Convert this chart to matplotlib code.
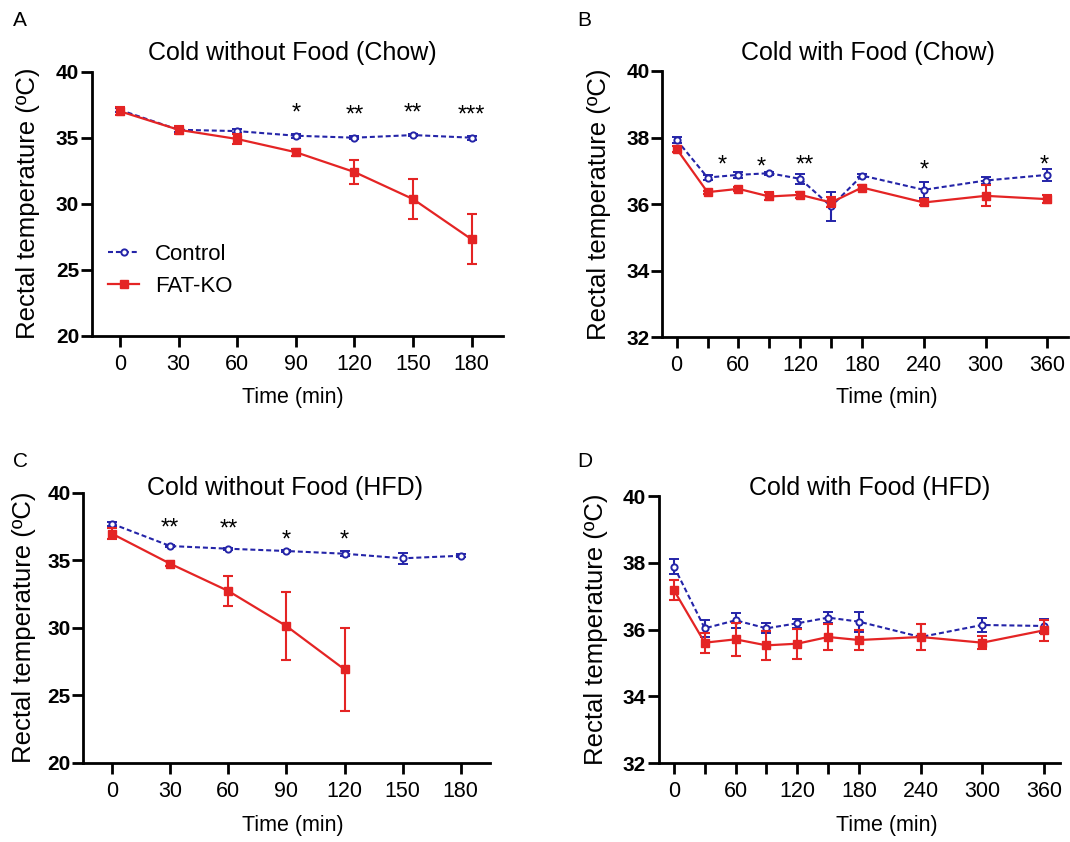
import numpy as np
import matplotlib.pyplot as plt

plt.rcParams['font.family'] = ['Liberation Sans', 'DejaVu Sans']

# ---- data ----
times_A = [0, 30, 60, 90, 120, 150, 180]
ctrl_A = [37.1, 35.6, 35.5, 35.15, 35.0, 35.2, 35.0]
ctrl_A_err = [0.15, 0.15, 0.15, 0.15, 0.1, 0.1, 0.15]
ko_A = [37.0, 35.6, 34.9, 33.9, 32.4, 30.35, 27.3]
ko_A_err = [0.3, 0.3, 0.35, 0.25, 0.9, 1.5, 1.9]
stars_A_x = [90, 120, 150, 180]
stars_A_y = [37.43, 37.3, 37.43, 37.3]
stars_A = ['*', '**', '**', '***']

times_B = [0, 30, 60, 90, 120, 150, 180, 240, 300, 360]
ctrl_B = [37.93, 36.8, 36.88, 36.93, 36.76, 35.93, 36.86, 36.43, 36.71, 36.88]
ctrl_B_err = [0.1, 0.08, 0.08, 0.05, 0.15, 0.43, 0.05, 0.25, 0.1, 0.17]
ko_B = [37.66, 36.36, 36.46, 36.23, 36.28, 36.05, 36.5, 36.05, 36.25, 36.15]
ko_B_err = [0.1, 0.05, 0.05, 0.12, 0.1, 0.15, 0.08, 0.08, 0.32, 0.12]
stars_B_x = [44, 82, 124, 240, 357]
stars_B_y = [37.41, 37.35, 37.41, 37.25, 37.41]
stars_B = ['*', '*', '**', '*', '*']

times_C = [0, 30, 60, 90, 120, 150, 180]
ctrl_C = [37.7, 36.05, 35.85, 35.68, 35.48, 35.14, 35.33]
ctrl_C_err = [0.15, 0.08, 0.08, 0.08, 0.2, 0.4, 0.12]
times_C_ko = [0, 30, 60, 90, 120]
ko_C = [36.96, 34.74, 32.72, 30.12, 26.91]
ko_C_err = [0.4, 0.2, 1.1, 2.5, 3.05]
stars_C_x = [30, 60, 90, 120]
stars_C_y = [37.95, 37.83, 37.04, 37.04]
stars_C = ['**', '**', '*', '*']

times_D = [0, 30, 60, 90, 120, 150, 180, 240, 300, 360]
ctrl_D = [37.89, 36.04, 36.28, 36.04, 36.19, 36.36, 36.24, 35.78, 36.14, 36.11]
ctrl_D_err = [0.22, 0.25, 0.22, 0.15, 0.13, 0.17, 0.3, 0.4, 0.22, 0.2]
ko_D = [37.18, 35.61, 35.71, 35.53, 35.58, 35.78, 35.69, 35.78, 35.61, 35.98]
ko_D_err = [0.3, 0.3, 0.5, 0.43, 0.45, 0.38, 0.3, 0.4, 0.2, 0.32]

ticks_short = [0, 30, 60, 90, 120, 150, 180]
ticks_long = [0, 30, 60, 90, 120, 150, 180, 240, 300, 360]
labels_long = ['0', '', '60', '', '120', '', '180', '240', '300', '360']

BLUE = '#2424a8'
RED = '#e42424'
W, H = 1070, 842

fig = plt.figure(figsize=(W / 100, H / 100), dpi=100)


def make_axes(left, right, top, bottom):
    return fig.add_axes([left / W, 1 - bottom / H, (right - left) / W, (bottom - top) / H])


def panel(ax, t_c, c, ce, t_k, k, ke, xlim, ylim, yticks, xticks, xlabels,
          title, title_xy, letter, letter_xy, ylab_off, xlab_xy,
          sx, sy, st):
    ec = ax.errorbar(t_c, c, yerr=ce, color=BLUE, lw=1.5, dashes=(2.4, 1.4),
                     marker='o', ms=4.5, mfc='white', mec=BLUE, mew=1.4,
                     elinewidth=1.5, capsize=3.5, capthick=1.5, clip_on=False,
                     zorder=3)
    ek = ax.errorbar(t_k, k, yerr=ke, color=RED, lw=1.6, marker='s', ms=6,
                     mfc=RED, mec=RED, elinewidth=1.5, capsize=3.5, capthick=1.5,
                     clip_on=False, zorder=4)
    ax.set_xlim(*xlim)
    ax.set_ylim(*ylim)
    ax.set_yticks(yticks)
    ax.set_xticks(xticks)
    ax.set_xticklabels(xlabels)
    for s in ['top', 'right']:
        ax.spines[s].set_visible(False)
    for s in ['left', 'bottom']:
        ax.spines[s].set_linewidth(2.0)
    ax.tick_params(width=2.0, length=8)
    ax.tick_params(axis='x', pad=5, labelsize=15.5)
    ax.tick_params(axis='y', pad=1, labelsize=15)
    for lb in ax.get_yticklabels():
        lb.set_fontweight('bold')
    ax.set_ylabel('Rectal temperature (ºC)', fontsize=18.5)
    ax.yaxis.set_label_coords(ylab_off, 0.5)
    for x, y, s in zip(sx, sy, st):
        ax.annotate(s, (x, y), xytext=(0, -10), textcoords='offset points',
                    ha='center', va='baseline', fontsize=17)
    fig.text(title_xy[0] / W, 1 - title_xy[1] / H, title, ha='center', va='center', fontsize=18)
    fig.text(letter_xy[0] / W, 1 - letter_xy[1] / H, letter, ha='left', va='center', fontsize=15)
    fig.text(xlab_xy[0] / W, 1 - xlab_xy[1] / H, 'Time (min)', ha='center', va='center', fontsize=15.5)
    return ec[0], ek[0]


axA = make_axes(91.7, 502.7, 71.7, 335.7)
hc, hk = panel(axA, times_A, ctrl_A, ctrl_A_err, times_A, ko_A, ko_A_err,
               (-14.5, 195.9), (20, 40), [20, 25, 30, 35, 40], ticks_short,
               [str(t) for t in ticks_short], 'Cold without Food (Chow)', (292, 53),
               'A', (13, 20), -0.125, (293, 397), stars_A_x, stars_A_y, stars_A)
axA.legend([hc, hk], ['Control', 'FAT-KO'], loc='upper left',
           bbox_to_anchor=(108 / W, 1 - 244 / H),
           bbox_transform=fig.transFigure, frameon=False, fontsize=16,
           handlelength=1.4, handletextpad=0.7, labelspacing=0.5,
           borderpad=0, borderaxespad=0)

axB = make_axes(662, 1068, 71, 337.3)
panel(axB, times_B, ctrl_B, ctrl_B_err, times_B, ko_B, ko_B_err,
      (-14.2, 380), (32, 40), [32, 34, 36, 38, 40], ticks_long, labels_long,
      'Cold with Food (Chow)', (868, 53), 'B', (577, 20), -0.125, (887, 397),
      stars_B_x, stars_B_y, stars_B)

axC = make_axes(83, 489.8, 492.7, 762.7)
panel(axC, times_C, ctrl_C, ctrl_C_err, times_C_ko, ko_C, ko_C_err,
      (-15, 195), (20, 40), [20, 25, 30, 35, 40], ticks_short,
      [str(t) for t in ticks_short], 'Cold without Food (HFD)', (285, 488),
      'C', (13, 461), -0.115, (293, 826), stars_C_x, stars_C_y, stars_C)

axD = make_axes(658.5, 1060, 496, 763.3)
panel(axD, times_D, ctrl_D, ctrl_D_err, times_D, ko_D, ko_D_err,
      (-15, 375.6), (32, 40), [32, 34, 36, 38, 40], ticks_long, labels_long,
      'Cold with Food (HFD)', (870, 488), 'D', (577, 461), -0.125, (887, 826),
      [], [], [])

fig.savefig('out.png', dpi=100)
